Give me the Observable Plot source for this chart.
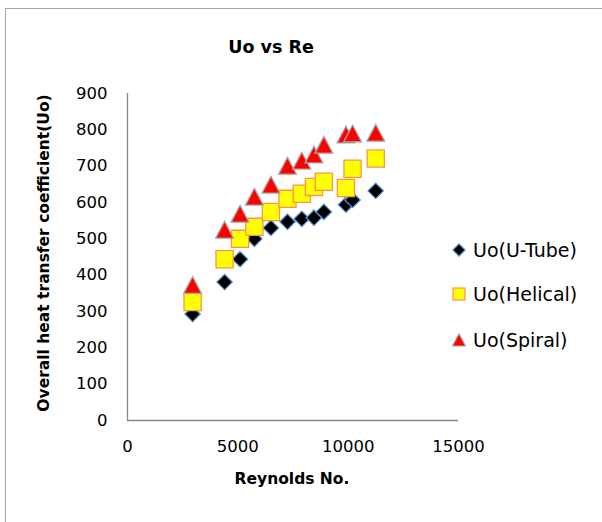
<!DOCTYPE html>
<html>
<head>
<meta charset="utf-8">
<script src="https://cdn.jsdelivr.net/npm/d3@7"></script>
<script src="https://cdn.jsdelivr.net/npm/@observablehq/plot@0.6"></script>
<style>
  html, body { margin: 0; padding: 0; background: #fff; }
  #wrap { position: relative; width: 602px; height: 522px; overflow: hidden; font-family: "DejaVu Sans", sans-serif; color: #000; }
  #frame { position: absolute; left: 5px; top: 8px; width: 640px; height: 600px; border: 1px solid #a6a6a6; box-sizing: border-box; }
  #chart { position: absolute; left: 0; top: 0; }
  .ov { position: absolute; white-space: nowrap; }
  #title { left: 271px; top: 47px; transform: translate(-50%, -50%); font-weight: bold; font-size: 17.5px; }
  #xlab { left: 292px; top: 479px; transform: translate(-50%, -50%); font-weight: bold; font-size: 15.5px; }
  #ylab { left: 44px; top: 253px; transform: translate(-50%, -50%) rotate(-90deg); font-weight: bold; font-size: 15.5px; }
  .leg { position: absolute; left: 452px; display: flex; align-items: center; font-size: 19px; }
  .leg svg { margin-right: 7px; }
</style>
</head>
<body>
<div id="wrap">
  <div id="frame"></div>
  <div id="chart"></div>
  <div class="ov" id="title">Uo vs Re</div>
  <div class="ov" id="xlab">Reynolds No.</div>
  <div class="ov" id="ylab">Overall heat transfer coefficient(Uo)</div>
  <div id="legend"></div>
</div>
<script>
// Data
const reynolds = [2950, 4400, 5100, 5750, 6500, 7250, 7900, 8450, 8900, 9900, 10200, 11250];
const uoUTube  = [293, 381, 444, 500, 530, 547, 555, 558, 574, 594, 607, 632];
const uoHelical = [326, 444, 500, 533, 574, 610, 624, 643, 657, 640, 693, 721];
const uoSpiral = [373, 525, 569, 616, 649, 701, 715, 732, 759, 787, 790, 792];
const seriesNames = ["Uo(U-Tube)", "Uo(Helical)", "Uo(Spiral)"];
const xTicks = [0, 5000, 10000, 15000];
const yTicks = [0, 100, 200, 300, 400, 500, 600, 700, 800, 900];

const toRows = (vals) => reynolds.map((re, i) => ({re, uo: vals[i]}));
const uRows = toRows(uoUTube), hRows = toRows(uoHelical), sRows = toRows(uoSpiral);

const diamondSym = (r) => ({draw(c) { c.moveTo(0, -r); c.lineTo(r, 0); c.lineTo(0, r); c.lineTo(-r, 0); c.closePath(); }});
const squareSym = (h) => ({draw(c) { c.moveTo(-h, -h); c.lineTo(h, -h); c.lineTo(h, h); c.lineTo(-h, h); c.closePath(); }});
const triangleSym = (w, ht) => ({draw(c) { c.moveTo(0, -ht / 2); c.lineTo(w / 2, ht / 2); c.lineTo(-w / 2, ht / 2); c.closePath(); }});

const styles = [
  {fill: "#000000", stroke: "#5b9bd5"},
  {fill: "#ffff00", stroke: "#f79646"},
  {fill: "#ff0000", stroke: "#a6a6a6"}
];

const plot = Plot.plot({
  width: 602,
  height: 522,
  marginLeft: 127,
  marginRight: 144,
  marginTop: 93,
  marginBottom: 102,
  style: {fontFamily: "DejaVu Sans, sans-serif", fontSize: "16.5px", color: "#000", background: "transparent"},
  x: {domain: [0, 15000], ticks: xTicks, tickSize: 0, tickPadding: 20, tickFormat: d => String(d), label: null},
  y: {domain: [0, 900], ticks: yTicks, tickSize: 0, tickPadding: 20, tickFormat: d => String(d), label: null},
  marks: [
    Plot.ruleX([0], {stroke: "#868686", strokeWidth: 1.3}),
    Plot.ruleY([0], {stroke: "#868686", strokeWidth: 1.3}),
    Plot.dot(uRows, {x: "re", y: "uo", symbol: diamondSym(7.8), r: 8, fill: styles[0].fill, stroke: styles[0].stroke, strokeWidth: 1.2}),
    Plot.dot(hRows, {x: "re", y: "uo", symbol: squareSym(8.6), r: 8, fill: styles[1].fill, stroke: styles[1].stroke, strokeWidth: 1.3}),
    Plot.dot(sRows, {x: "re", y: "uo", symbol: triangleSym(17.8, 16.8), r: 8, fill: styles[2].fill, stroke: styles[2].stroke, strokeWidth: 1.3})
  ]
});
document.getElementById("chart").appendChild(plot);

// Legend
const legendRows = [
  {y: 250, shape: '<polygon points="7,0.8 13.2,7 7,13.2 0.8,7"/>'},
  {y: 294, shape: '<rect x="1" y="1" width="12" height="12"/>'},
  {y: 340, shape: '<polygon points="7,0.8 13.5,13 0.5,13"/>'}
];
const legend = document.getElementById("legend");
seriesNames.forEach((name, i) => {
  const d = document.createElement("div");
  d.className = "leg";
  d.style.top = (legendRows[i].y - 12) + "px";
  d.style.height = "24px";
  d.innerHTML = `<svg width="14" height="14" style="fill:${styles[i].fill};stroke:${styles[i].stroke};stroke-width:1.2">${legendRows[i].shape}</svg><span>${name}</span>`;
  legend.appendChild(d);
});
</script>
</body>
</html>
